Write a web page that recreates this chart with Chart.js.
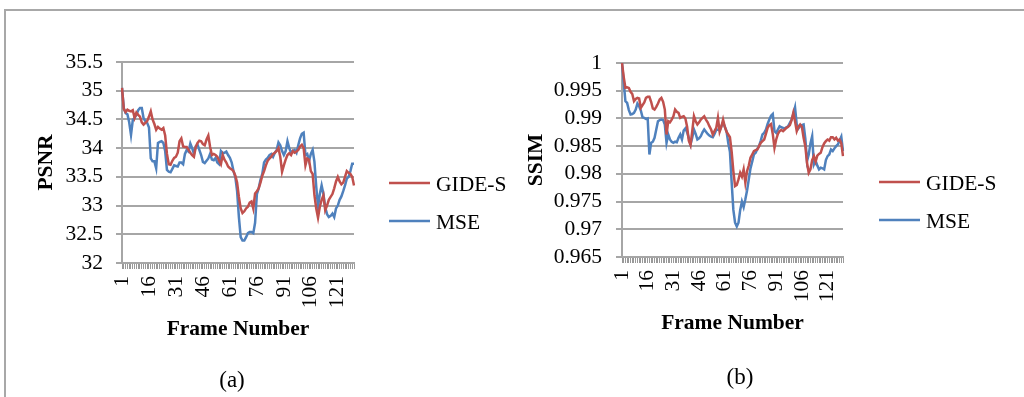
<!DOCTYPE html>
<html>
<head>
<meta charset="utf-8">
<script src="https://cdn.jsdelivr.net/npm/chart.js@4.4.0/dist/chart.umd.min.js"></script>
<style>
  html, body { margin: 0; padding: 0; background: #fff; }
  #page { position: relative; width: 1024px; height: 397px; overflow: hidden; }
  #frame { position: absolute; left: 4px; top: 9px; width: 1100px; height: 500px;
           border-left: 2px solid #a8a8a8; border-top: 2px solid #a8a8a8; }
  canvas { position: absolute; top: 0; }
  #psnrChart { left: 0; }
  #ssimChart { left: 512px; }
</style>
</head>
<body>
<div id="page">
  <div id="frame"></div>
  <canvas id="psnrChart" width="512" height="397"></canvas>
  <canvas id="ssimChart" width="512" height="397"></canvas>
</div>
<script>
// Frame numbers 1..130 on the category axis
const frames = [];
for (let f = 1; f <= 130; f++) frames.push(String(f));
const frameTickLabels = ['1', '16', '31', '46', '61', '76', '91', '106', '121'];

const psnrTicks = [32, 32.5, 33, 33.5, 34, 34.5, 35, 35.5];
const ssimTicks = [0.965, 0.97, 0.975, 0.98, 0.985, 0.99, 0.995, 1];

const seriesNames = ['GIDE-S', 'MSE'];
const seriesColors = ['#c0504d', '#4f81bd'];

const psnrGideS = [
  35.05, 34.68, 34.63, 34.67, 34.65, 34.64, 34.66, 34.53, 34.62, 34.58,
  34.55, 34.45, 34.41, 34.44, 34.47, 34.55, 34.64, 34.50, 34.42, 34.32,
  34.37, 34.34, 34.32, 34.35, 34.22, 33.90, 33.72, 33.71, 33.78, 33.83,
  33.85, 33.92, 34.12, 34.17, 34.03, 34.02, 34.02, 33.97, 33.92, 33.88,
  33.85, 34.02, 34.09, 34.13, 34.12, 34.07, 34.05, 34.15, 34.22, 34.02,
  33.88, 33.90, 33.88, 33.85, 33.78, 33.72, 33.88, 33.80, 33.75, 33.68,
  33.65, 33.63, 33.60, 33.52, 33.40, 33.15, 32.95, 32.87, 32.90, 32.95,
  32.98, 33.05, 33.07, 32.95, 33.21, 33.25, 33.30, 33.40, 33.52, 33.60,
  33.70, 33.78, 33.82, 33.85, 33.90, 33.92, 33.95, 34.00, 33.85, 33.59,
  33.70, 33.80, 33.88, 33.91, 33.88, 33.95, 33.92, 33.94, 33.97, 34.03,
  34.06, 34.00, 33.70, 33.82, 33.80, 33.60, 33.55, 33.18, 32.95, 32.79,
  32.98, 33.10, 33.18, 32.92, 33.00, 33.10, 33.15, 33.20, 33.30, 33.42,
  33.50, 33.42, 33.37, 33.40, 33.50, 33.60, 33.57, 33.55, 33.50, 33.35
];
const psnrMse = [
  35.05, 34.70, 34.61, 34.59, 34.45, 34.23, 34.49, 34.53, 34.58, 34.66,
  34.70, 34.70, 34.52, 34.47, 34.44, 34.36, 33.82, 33.77, 33.77, 33.65,
  34.09, 34.11, 34.12, 34.09, 33.95, 33.62, 33.59, 33.58, 33.64, 33.70,
  33.69, 33.68, 33.75, 33.75, 33.72, 33.90, 33.97, 33.94, 34.08, 34.00,
  33.90, 34.03, 34.06, 33.97, 33.88, 33.76, 33.74, 33.78, 33.82, 33.90,
  33.80, 33.79, 33.83, 33.75, 33.72, 33.95, 33.91, 33.92, 33.94, 33.88,
  33.83, 33.75, 33.60, 33.50, 33.25, 32.80, 32.45, 32.39, 32.39, 32.45,
  32.52, 32.54, 32.54, 32.52, 32.70, 33.20, 33.30, 33.45, 33.55, 33.75,
  33.80, 33.83, 33.88, 33.90, 33.85, 33.92, 33.97, 34.10, 34.05, 33.95,
  33.88, 33.95, 34.12, 34.00, 33.92, 33.95, 33.97, 33.92, 34.05, 34.17,
  34.25, 34.27, 33.88, 33.90, 33.78, 33.90, 33.97, 33.76, 33.33, 32.98,
  33.20, 33.35, 33.20, 32.97, 32.85, 32.80, 32.82, 32.86, 32.80, 32.95,
  33.00, 33.10, 33.16, 33.25, 33.35, 33.47, 33.50, 33.60, 33.73, 33.73
];
const ssimGideS = [
  1.0000, 0.9975, 0.9955, 0.9956, 0.9955, 0.9948, 0.9944, 0.9931, 0.9935, 0.9937,
  0.9936, 0.9919, 0.9924, 0.9929, 0.9937, 0.9939, 0.9939, 0.9930, 0.9918, 0.9916,
  0.9921, 0.9927, 0.9934, 0.9937, 0.9930, 0.9916, 0.9871, 0.9895, 0.9893, 0.9898,
  0.9904, 0.9916, 0.9912, 0.9910, 0.9901, 0.9903, 0.9904, 0.9900, 0.9885, 0.9860,
  0.9852, 0.9877, 0.9904, 0.9895, 0.9889, 0.9893, 0.9898, 0.9901, 0.9904, 0.9898,
  0.9893, 0.9886, 0.9880, 0.9871, 0.9877, 0.9883, 0.9901, 0.9876, 0.9885, 0.9898,
  0.9885, 0.9876, 0.9871, 0.9866, 0.9840, 0.9805, 0.9778, 0.9780, 0.9790, 0.9802,
  0.9795, 0.9808, 0.9784, 0.9805, 0.9815, 0.9829, 0.9835, 0.9841, 0.9843, 0.9844,
  0.9850, 0.9856, 0.9859, 0.9862, 0.9872, 0.9883, 0.9888, 0.9890, 0.9872, 0.9847,
  0.9862, 0.9872, 0.9877, 0.9879, 0.9877, 0.9880, 0.9883, 0.9885, 0.9888, 0.9897,
  0.9910, 0.9895, 0.9877, 0.9885, 0.9889, 0.9885, 0.9865, 0.9850, 0.9820, 0.9802,
  0.9808, 0.9825, 0.9832, 0.9822, 0.9833, 0.9836, 0.9838, 0.9848, 0.9855, 0.9859,
  0.9862, 0.9860, 0.9866, 0.9866, 0.9862, 0.9865, 0.9860, 0.9862, 0.9855, 0.9832
];
const ssimMse = [
  1.0000, 0.9965, 0.9931, 0.9928, 0.9915, 0.9907, 0.9908, 0.9910, 0.9916, 0.9927,
  0.9922, 0.9914, 0.9902, 0.9901, 0.9899, 0.9900, 0.9835, 0.9856, 0.9858, 0.9865,
  0.9880, 0.9895, 0.9897, 0.9898, 0.9897, 0.9889, 0.9856, 0.9871, 0.9862, 0.9858,
  0.9856, 0.9858, 0.9857, 0.9865, 0.9871, 0.9862, 0.9878, 0.9882, 0.9875, 0.9865,
  0.9853, 0.9865, 0.9880, 0.9872, 0.9862, 0.9864, 0.9868, 0.9875, 0.9880, 0.9876,
  0.9872, 0.9869, 0.9867, 0.9866, 0.9872, 0.9879, 0.9880, 0.9878, 0.9886, 0.9893,
  0.9885, 0.9877, 0.9856, 0.9840, 0.9785, 0.9735, 0.9712, 0.9705, 0.9712, 0.9735,
  0.9750, 0.9740, 0.9754, 0.9770, 0.9790, 0.9810, 0.9822, 0.9835, 0.9838, 0.9845,
  0.9850, 0.9860, 0.9871, 0.9874, 0.9880, 0.9890, 0.9898, 0.9905, 0.9908, 0.9877,
  0.9874, 0.9880, 0.9886, 0.9884, 0.9883, 0.9882, 0.9884, 0.9886, 0.9892, 0.9898,
  0.9908, 0.9920, 0.9889, 0.9882, 0.9886, 0.9888, 0.9889, 0.9864, 0.9823, 0.9835,
  0.9855, 0.9868, 0.9817, 0.9824, 0.9815, 0.9808, 0.9811, 0.9810, 0.9808, 0.9825,
  0.9832, 0.9835, 0.9844, 0.9841, 0.9846, 0.9850, 0.9853, 0.9860, 0.9867, 0.9841
];

const FONT_SIZE = 21.5;
const GRID_GREY = '#a6a6a6';
const TICK_GREY = '#999999';
Chart.defaults.font.family = '"Liberation Serif", "Times New Roman", serif';
Chart.defaults.font.size = FONT_SIZE;
Chart.defaults.color = '#000';

// Legend entries to the right of the plot and the (a)/(b) caption underneath
const panelDecor = {
  id: 'panelDecor',
  afterDraw(chart, args, opts) {
    const ctx = chart.ctx;
    ctx.save();
    ctx.font = FONT_SIZE + 'px "Liberation Serif", serif';
    ctx.fillStyle = '#000';
    ctx.textBaseline = 'alphabetic';
    chart.data.datasets.forEach((ds, k) => {
      const y = opts.legendY[k];
      ctx.strokeStyle = ds.borderColor;
      ctx.lineWidth = ds.borderWidth;
      ctx.beginPath();
      ctx.moveTo(opts.legendX, y);
      ctx.lineTo(opts.legendX + 41, y);
      ctx.stroke();
      ctx.textAlign = 'left';
      ctx.fillText(ds.label, opts.legendX + 47, y + 8);
    });
    ctx.font = '23px "Liberation Serif", serif';
    ctx.textAlign = 'center';
    ctx.fillText(opts.caption, opts.captionX, opts.captionY);
    ctx.restore();
  }
};

function makePanel(canvasId, yTitle, yTicks, seriesValues, geo) {
  return new Chart(document.getElementById(canvasId), {
    type: 'line',
    data: {
      labels: frames,
      datasets: seriesValues.map((vals, k) => ({
        label: seriesNames[k],
        data: vals,
        borderColor: seriesColors[k],
        borderWidth: 2.5,
        pointRadius: 0,
        tension: 0,
        fill: false
      }))
    },
    options: {
      responsive: false,
      animation: false,
      events: [],
      layout: { padding: geo.pad },
      plugins: {
        legend: { display: false },
        tooltip: { enabled: false },
        panelDecor: geo.decor
      },
      scales: {
        x: {
          type: 'category',
          offset: false,
          grid: { drawOnChartArea: false, drawTicks: true, tickLength: 6, color: TICK_GREY, lineWidth: 1 },
          border: { color: GRID_GREY, width: 2 },
          ticks: {
            autoSkip: false,
            minRotation: 90,
            maxRotation: 90,
            padding: 7,
            color: '#000',
            callback(value) {
              const lbl = this.getLabelForValue(value);
              return frameTickLabels.includes(lbl) ? lbl : '';
            }
          },
          title: { display: true, text: 'Frame Number', font: { size: FONT_SIZE, weight: 'bold' }, color: '#000', padding: 0 },
          afterFit(scale) { scale.height = 79; }
        },
        y: {
          min: yTicks[0],
          max: yTicks[yTicks.length - 1],
          afterBuildTicks(scale) { scale.ticks = yTicks.map(v => ({ value: v })); },
          grid: { color: GRID_GREY, lineWidth: 2, tickLength: 6 },
          border: { color: GRID_GREY, width: 2 },
          ticks: { autoSkip: false, padding: geo.yTickPad, color: '#000', callback: v => String(v) },
          title: { display: true, text: yTitle, font: { size: FONT_SIZE, weight: 'bold' }, color: '#000', padding: 0 },
          afterFit(scale) { scale.width = geo.yWidth; }
        }
      }
    },
    plugins: [panelDecor]
  });
}

makePanel('psnrChart', 'PSNR', psnrTicks, [psnrGideS, psnrMse], {
  pad: { left: 34, top: 62, right: 158, bottom: 55 },
  yWidth: 88,
  yTickPad: 13,
  decor: { legendX: 389, legendY: [183, 221], caption: '(a)', captionX: 232, captionY: 387 }
});

makePanel('ssimChart', 'SSIM', ssimTicks, [ssimGideS, ssimMse], {
  pad: { left: 12, top: 63, right: 181, bottom: 61 },
  yWidth: 98,
  yTickPad: 14,
  decor: { legendX: 367, legendY: [182, 220], caption: '(b)', captionX: 228, captionY: 384 }
});
</script>
</body>
</html>
